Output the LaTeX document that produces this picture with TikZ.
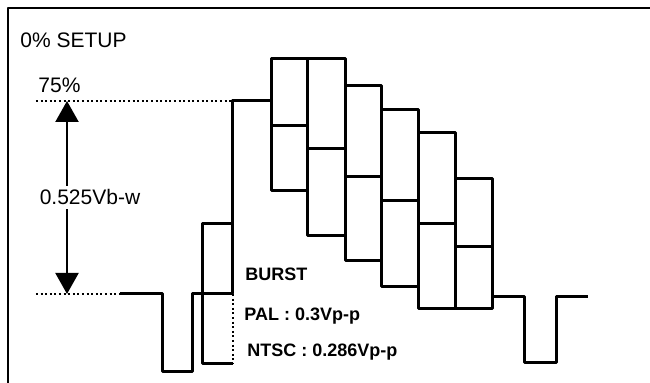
\documentclass[tikz,border=0pt]{standalone}
\usepackage{fontspec}
\setmainfont{Liberation Sans}
\usepackage{tikz}
\usetikzlibrary{arrows.meta}

\begin{document}
\begin{tikzpicture}[x=0.5pt,y=-0.5pt,line join=round,
  wave/.style={line width=1.5pt},
  guide/.style={line width=1.1pt,dash pattern=on 1pt off 1.3pt},
  lbl/.style={inner sep=0pt,font=\fontsize{10.5pt}{12pt}\selectfont},
  note/.style={inner sep=0pt,font=\fontsize{9pt}{11pt}\selectfont\bfseries}]
\useasboundingbox (0,0) rectangle (650,383);
% frame
\draw[line width=1.4pt] (650,8) -- (8,8) -- (8,383);

\node[lbl,anchor=base west] (S) at (20,48)  {0\% SETUP};
\node[lbl,anchor=base west] (P) at (38,93)  {75\%};
\node[lbl,inner sep=2pt,text height=7.5pt,text depth=0pt] (A) at (90,197.5) {0.525Vb-w};
\node[note,anchor=base west] (B) at (245,281) {BURST};
\node[note,anchor=base west] (L) at (244,321) {PAL : 0.3Vp-p};
\node[note,anchor=base west] (N) at (247,357) {NTSC : 0.286Vp-p};

\coordinate (hi) at (67,101);
\coordinate (lo) at (67,294);

% levels
\draw[guide] (36,101) -- (233,101);
\draw[guide] (36,294) -- (120,294);
\draw[guide] (233,294) -- (233,364);

% amplitude arrow
\path[line width=1.1pt,-{Triangle[width=11.5pt,length=10.5pt]}]
  (A.north -| hi) edge (hi)
  (A.south -| lo) edge (lo);

% sync, burst, bars
\draw[wave] (120,294) -- (163,294) -- (163,372) -- (193,372) -- (193,294)
  -- (233,294) -- (233,101) -- (272,101);
\draw[wave] (233,224) -- (203,224) -- (203,364) -- (233,364);
\foreach \xa/\xb/\yt/\ym/\yb in {272/308/59/126/191, 308/346/59/149/236,
  346/382/86/177/261, 382/419/110/201/287, 419/456/133/224/309,
  456/493/179/247/309}
{
  \draw[wave] (\xa,\yt) rectangle (\xb,\yb);
  \draw[wave] (\xa,\ym) -- (\xb,\ym);
}
\draw[wave] (493,297) -- (525,297) -- (525,363) -- (557,363) -- (557,297)
  -- (588,297);
\end{tikzpicture}
\end{document}
